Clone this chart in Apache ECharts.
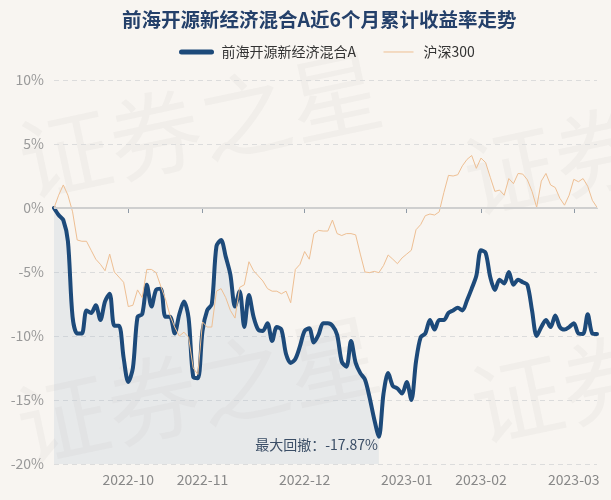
<!DOCTYPE html>
<html>
<head>
<meta charset="utf-8">
<script src="https://cdn.jsdelivr.net/npm/echarts@6/dist/echarts.min.js"></script>
<style>
html,body{margin:0;padding:0;background:#f8f5f1;}
#c{width:611px;height:500px;}
</style>
</head>
<body>
<div id="c"></div>
<script>
var titleText = '前海开源新经济混合A近6个月累计收益率走势';
var fundName = '前海开源新经济混合A';
var indexName = '沪深300';

var dates = [
'2022-09-08','2022-09-09','2022-09-13','2022-09-14','2022-09-15','2022-09-16','2022-09-19','2022-09-20','2022-09-21','2022-09-22','2022-09-23','2022-09-26','2022-09-27','2022-09-28','2022-09-29','2022-09-30',
'2022-10-10','2022-10-11','2022-10-12','2022-10-13','2022-10-14','2022-10-17','2022-10-18','2022-10-19','2022-10-20','2022-10-21','2022-10-24','2022-10-25','2022-10-26','2022-10-27','2022-10-28','2022-10-31',
'2022-11-01','2022-11-02','2022-11-03','2022-11-04','2022-11-07','2022-11-08','2022-11-09','2022-11-10','2022-11-11','2022-11-14','2022-11-15','2022-11-16','2022-11-17','2022-11-18','2022-11-21','2022-11-22','2022-11-23','2022-11-24','2022-11-25','2022-11-28','2022-11-29','2022-11-30',
'2022-12-01','2022-12-02','2022-12-05','2022-12-06','2022-12-07','2022-12-08','2022-12-09','2022-12-12','2022-12-13','2022-12-14','2022-12-15','2022-12-16','2022-12-19','2022-12-20','2022-12-21','2022-12-22','2022-12-23','2022-12-26','2022-12-27','2022-12-28','2022-12-29','2022-12-30',
'2023-01-03','2023-01-04','2023-01-05','2023-01-06','2023-01-09','2023-01-10','2023-01-11','2023-01-12','2023-01-13','2023-01-16','2023-01-17','2023-01-18','2023-01-19','2023-01-20','2023-01-30','2023-01-31',
'2023-02-01','2023-02-02','2023-02-03','2023-02-06','2023-02-07','2023-02-08','2023-02-09','2023-02-10','2023-02-13','2023-02-14','2023-02-15','2023-02-16','2023-02-17','2023-02-20','2023-02-21','2023-02-22','2023-02-23','2023-02-24','2023-02-27','2023-02-28',
'2023-03-01','2023-03-02','2023-03-03','2023-03-06','2023-03-07','2023-03-08'
];

var fundValues = [
0,-0.55,-0.94,-2.6,-8.5,-9.8,-9.8,-8.0,-8.2,-7.6,
-8.75,-7.3,-6.7,-9.2,-9.2,-11.7,-13.6,-12.5,-8.5,-8.3,
-6.0,-7.7,-6.4,-6.3,-8.5,-8.5,-9.8,-8.3,-7.3,-8.6,
-13.2,-13.3,-9.6,-8.0,-7.5,-3.0,-2.5,-3.8,-5.2,-7.7,
-6.5,-9.3,-6.8,-8.5,-9.5,-9.6,-9.0,-10.4,-9.3,-9.5,
-11.4,-12.1,-11.8,-10.8,-9.6,-9.4,-10.5,-9.9,-9.0,-9.0,
-9.2,-9.9,-12.0,-12.4,-10.4,-12.1,-12.9,-13.4,-14.8,-16.5,
-17.87,-14.5,-12.9,-13.9,-14.1,-14.5,-13.6,-15.0,-12.0,-10.1,
-9.8,-8.75,-9.5,-8.75,-8.75,-8.2,-8.0,-7.8,-8.0,-7.2,
-6.3,-5.3,-3.3,-3.5,-5.4,-6.4,-5.6,-5.9,-5.0,-6.0,
-5.6,-5.8,-6.0,-8.0,-10.0,-9.3,-8.75,-9.3,-8.4,-9.3,
-9.5,-9.3,-9.0,-9.8,-9.84,-8.3,-9.8,-9.84
];

var indexValues = [
0,1.0,1.8,1.0,-0.3,-2.5,-2.6,-2.6,-3.3,-4.0,
-4.4,-4.9,-3.6,-5.0,-5.4,-5.8,-7.7,-7.6,-6.4,-7.0,
-4.8,-4.8,-5.05,-6.1,-7.1,-8.4,-9.3,-10.0,-9.7,-10.1,
-12.5,-13.0,-8.9,-9.3,-9.3,-6.5,-6.3,-7.0,-8.0,-8.6,
-6.2,-6.0,-4.2,-4.9,-5.3,-5.7,-6.3,-6.5,-6.5,-6.7,
-6.5,-7.4,-4.8,-4.4,-3.4,-4.0,-2.0,-1.75,-1.8,-1.8,
-0.94,-2.0,-2.15,-2.0,-2.0,-2.1,-3.6,-5.0,-5.05,-4.95,
-5.05,-4.5,-3.67,-4.0,-4.35,-3.9,-3.6,-3.3,-1.7,-1.3,
-0.6,-0.47,-0.55,-0.3,1.2,2.55,2.5,2.6,3.3,3.8,
4.1,3.1,3.9,3.55,2.4,1.3,1.4,1.0,2.3,1.9,
2.7,2.65,2.2,1.3,0.05,2.1,2.7,1.8,1.6,0.76,
0.22,1.0,2.24,2.05,2.3,1.7,0.6,0.05
];

var yTicks = [-20, -15, -10, -5, 0, 5, 10];
var watermarkText = '证券之星';

// derived: max drawdown point
var minIdx = 0;
for (var i = 1; i < fundValues.length; i++) { if (fundValues[i] < fundValues[minIdx]) minIdx = i; }
var minVal = fundValues[minIdx];
var fillValues = fundValues.map(function (v, i) { return i <= minIdx ? v : null; });

function isMonthStart(index) {
  return index > 0 && dates[index].slice(0, 7) !== dates[index - 1].slice(0, 7);
}

var FONT = '"Noto Sans CJK SC", "Noto Sans", sans-serif';
var chart = echarts.init(document.getElementById('c'), null, { renderer: 'canvas' });

var wm = [[20, 163], [18, 428], [465, 180], [472, 408]].map(function (p) {
  return {
    type: 'text', x: p[0], y: p[1], rotation: 0.21, z: 0, silent: true,
    style: { text: watermarkText, font: 'normal 92px ' + FONT, fill: 'rgba(90,90,90,0.045)', textAlign: 'left', textVerticalAlign: 'middle' }
  };
});

chart.setOption({
  backgroundColor: '#f8f5f1',
  animation: false,
  textStyle: { fontFamily: FONT },
  graphic: wm,
  title: {
    text: titleText, left: 117, top: 5,
    textStyle: { fontSize: 19.5, fontWeight: 'bold', color: '#24406a', fontFamily: FONT }
  },
  legend: {
    left: 174, top: 40, itemWidth: 30, itemHeight: 14, itemGap: 27,
    data: [
      { name: fundName, lineStyle: { width: 5 } },
      { name: indexName, lineStyle: { width: 1 } }
    ],
    itemStyle: { opacity: 0 },
    textStyle: { fontSize: 14, color: '#333', padding: [0, 0, 0, 5], fontFamily: FONT }
  },
  grid: { left: 54, right: 14, top: 80, bottom: 36 },
  xAxis: {
    type: 'category', data: dates, boundaryGap: false,
    axisLine: { lineStyle: { color: '#8f9aa6', width: 1 } },
    axisTick: { show: true, interval: isMonthStart, length: 5, lineStyle: { color: '#8f9aa6' } },
    axisLabel: {
      interval: isMonthStart, color: '#888', fontSize: 14, margin: 9,
      formatter: function (v) { return v.slice(0, 7); }
    },
    splitLine: { show: false }
  },
  yAxis: {
    type: 'value', min: yTicks[0], max: yTicks[yTicks.length - 1], interval: 5,
    axisLine: { show: false }, axisTick: { show: false },
    axisLabel: { formatter: '{value}%', color: '#999', fontSize: 14, margin: 10 },
    splitLine: { lineStyle: { color: '#dcdcdc', type: [5, 4], width: 1 } }
  },
  series: [
    {
      name: 'fill', type: 'line', data: fillValues, symbol: 'none', smooth: 0.3, z: 1,
      lineStyle: { width: 0, opacity: 0 },
      areaStyle: { color: 'rgba(170,188,206,0.3)', origin: 'start' },
      silent: true,
      markLine: {
        silent: true, symbol: 'none', label: { show: false },
        lineStyle: { color: '#cfcfcf', type: 'solid', width: 2 },
        data: [{ yAxis: 0 }]
      }
    },
    {
      name: fundName, type: 'line', data: fundValues, symbol: 'none', smooth: 0.3, z: 3,
      lineStyle: { width: 4, color: '#1d4a7a', join: 'round', cap: 'round' },
      itemStyle: { color: '#1d4a7a' },
      markPoint: {
        symbol: 'circle', symbolSize: 0, silent: true,
        data: [{ coord: [minIdx, minVal] }],
        label: {
          show: true, position: 'left', offset: [4, 8], fontSize: 14, color: '#3b4e66', fontFamily: FONT,
          formatter: function () { return '最大回撤：' + minVal.toFixed(2) + '%'; }
        }
      }
    },
    {
      name: indexName, type: 'line', data: indexValues, symbol: 'none', smooth: false, z: 4,
      lineStyle: { width: 1, color: '#eebf93' },
      itemStyle: { color: '#eebf93' }
    }
  ]
});
</script>
</body>
</html>
